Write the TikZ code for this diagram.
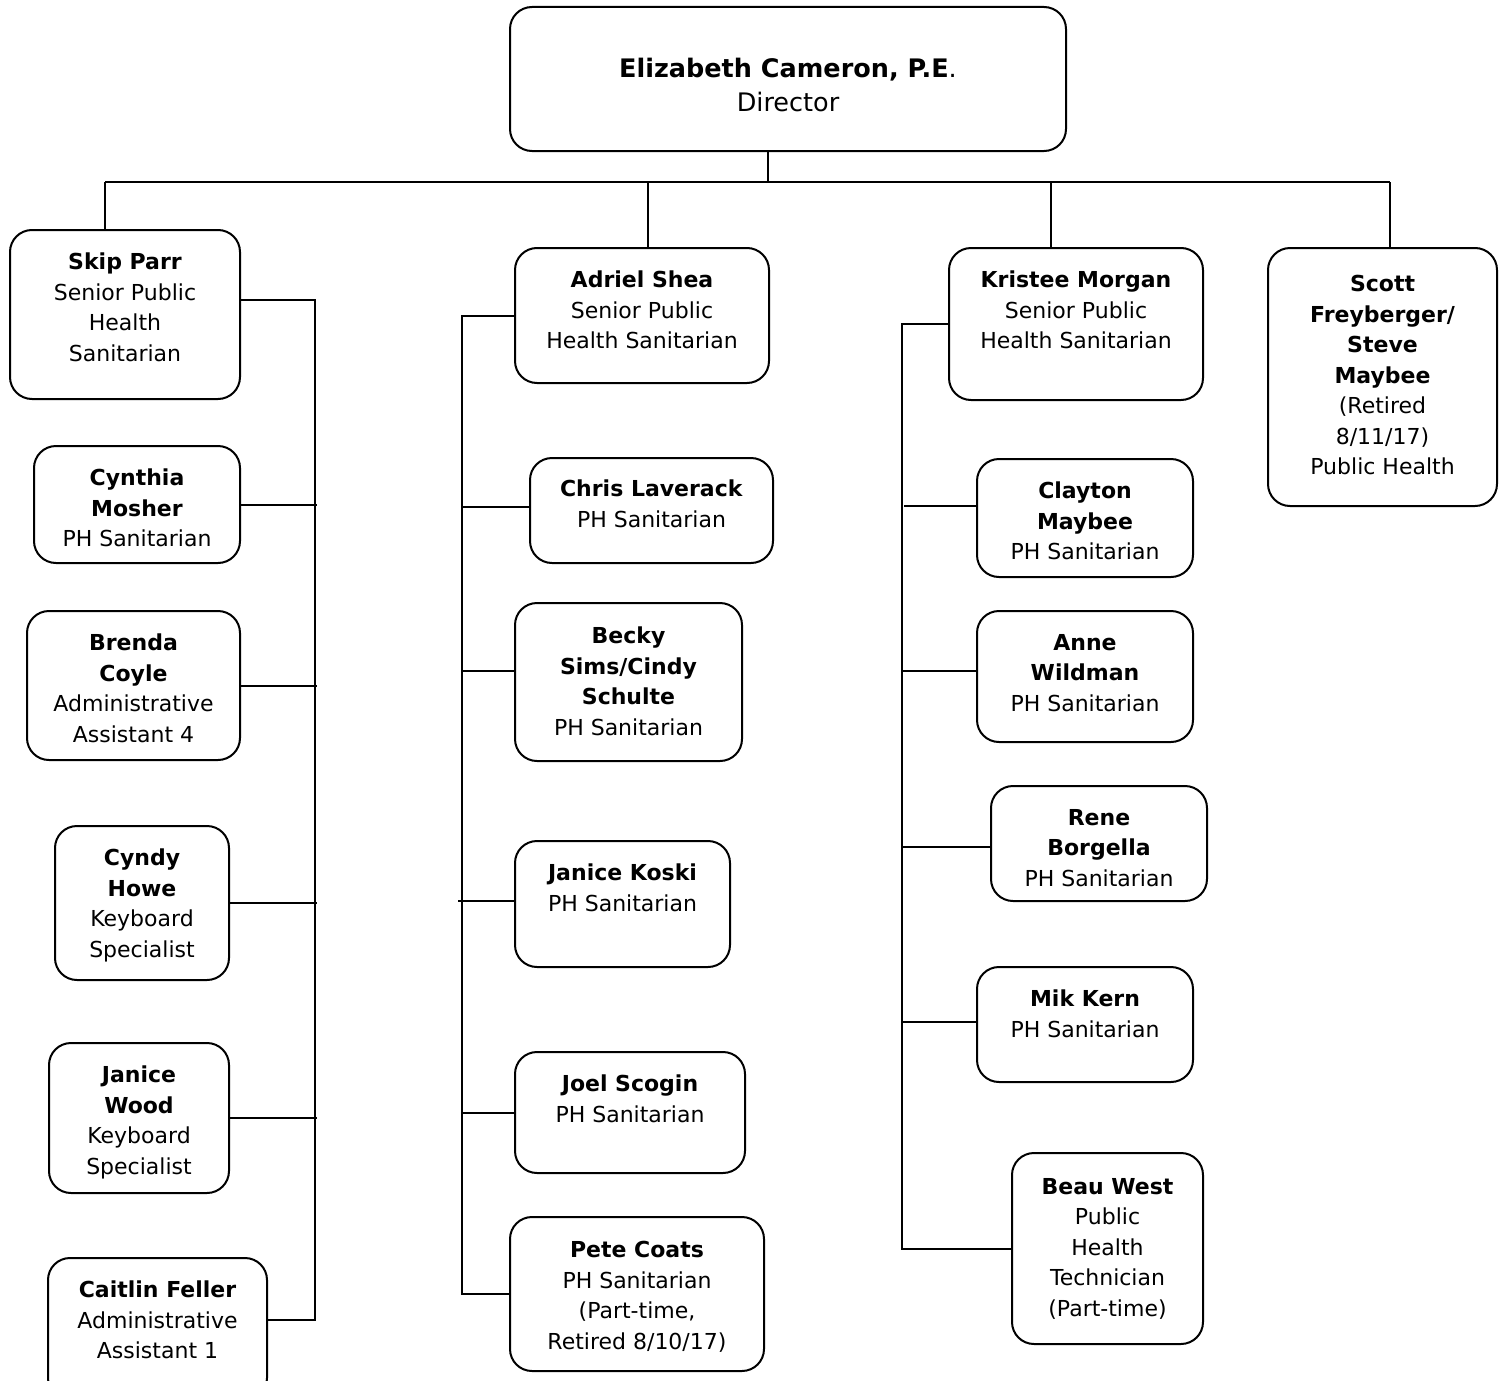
\documentclass[tikz,border=0pt]{standalone}
\usepackage{fontspec}
\setmainfont{DejaVu Sans}
\usepackage{tikz}
\usetikzlibrary{positioning}
\tikzstyle{staff} = [draw, rectangle, rounded corners=22pt, line width=2pt, inner sep=0pt]
\tikzstyle{nametext} = [align=center, inner sep=0pt, font=\fontsize{22}{30.5}\selectfont]
\tikzstyle{headtext} = [align=center, inner sep=0pt, font=\fontsize{25.5}{34}\selectfont]
\tikzstyle{link} = [line width=2pt]
\tikzstyle{bus} = [line width=2.4pt]
\tikzstyle{drop} = [line width=1.3pt]

\begin{document}
\begin{tikzpicture}[x=1pt, y=-1pt]
    \useasboundingbox (0,0) rectangle (1507,1381);
    % Director on top
    \node [staff, minimum width=556pt, minimum height=144pt] (dir) at (788,79) {};
    \node [headtext, below=52pt of dir.north] (dir-t) {\textbf{Elizabeth Cameron, P.E}.\\Director};

    % first column
    \node [staff, minimum width=230pt, minimum height=169pt] (skip) at (125,314.5) {};
    \node [nametext, below=24pt of skip.north] (skip-t) {\textbf{Skip Parr}\\Senior Public\\Health\\Sanitarian};
    \node [staff, minimum width=206pt, minimum height=117pt] (cyn) at (137,504.5) {};
    \node [nametext, below=24pt of cyn.north] (cyn-t) {\textbf{Cynthia}\\\textbf{Mosher}\\PH Sanitarian};
    \node [staff, minimum width=213pt, minimum height=149pt] (bren) at (133.5,685.5) {};
    \node [nametext, below=24pt of bren.north] (bren-t) {\textbf{Brenda}\\\textbf{Coyle}\\Administrative\\Assistant 4};
    \node [staff, minimum width=174pt, minimum height=154pt] (cyndy) at (142,903) {};
    \node [nametext, below=24pt of cyndy.north] (cyndy-t) {\textbf{Cyndy}\\\textbf{Howe}\\Keyboard\\Specialist};
    \node [staff, minimum width=180pt, minimum height=150pt] (jwood) at (139,1118) {};
    \node [nametext, below=24pt of jwood.north] (jwood-t) {\textbf{Janice}\\\textbf{Wood}\\Keyboard\\Specialist};
    \node [staff, minimum width=219pt, minimum height=142pt] (cait) at (157.5,1329) {};
    \node [nametext, below=24pt of cait.north] (cait-t) {\textbf{Caitlin Feller}\\Administrative\\Assistant 1};

    % second column
    \node [staff, minimum width=254pt, minimum height=135pt] (adriel) at (642,315.5) {};
    \node [nametext, below=24pt of adriel.north] (adriel-t) {\textbf{Adriel Shea}\\Senior Public\\Health Sanitarian};
    \node [staff, minimum width=243pt, minimum height=105pt] (chris) at (651.5,510.5) {};
    \node [nametext, below=23pt of chris.north] (chris-t) {\textbf{Chris Laverack}\\PH Sanitarian};
    \node [staff, minimum width=227pt, minimum height=158pt] (becky) at (628.5,682) {};
    \node [nametext, below=25pt of becky.north] (becky-t) {\textbf{Becky}\\\textbf{Sims/Cindy}\\\textbf{Schulte}\\PH Sanitarian};
    \node [staff, minimum width=215pt, minimum height=126pt] (koski) at (622.5,904) {};
    \node [nametext, below=24pt of koski.north] (koski-t) {\textbf{Janice Koski}\\PH Sanitarian};
    \node [staff, minimum width=230pt, minimum height=121pt] (joel) at (630,1112.5) {};
    \node [nametext, below=24pt of joel.north] (joel-t) {\textbf{Joel Scogin}\\PH Sanitarian};
    \node [staff, minimum width=254pt, minimum height=154pt] (pete) at (637,1294) {};
    \node [nametext, below=25pt of pete.north] (pete-t) {\textbf{Pete Coats}\\PH Sanitarian\\(Part-time,\\Retired 8/10/17)};

    % third column
    \node [staff, minimum width=254pt, minimum height=152pt] (kristee) at (1076,324) {};
    \node [nametext, below=24pt of kristee.north] (kristee-t) {\textbf{Kristee Morgan}\\Senior Public\\Health Sanitarian};
    \node [staff, minimum width=216pt, minimum height=118pt] (clay) at (1085,518) {};
    \node [nametext, below=24pt of clay.north] (clay-t) {\textbf{Clayton}\\\textbf{Maybee}\\PH Sanitarian};
    \node [staff, minimum width=216pt, minimum height=131pt] (anne) at (1085,676.5) {};
    \node [nametext, below=24pt of anne.north] (anne-t) {\textbf{Anne}\\\textbf{Wildman}\\PH Sanitarian};
    \node [staff, minimum width=216pt, minimum height=115pt] (rene) at (1099,843.5) {};
    \node [nametext, below=24pt of rene.north] (rene-t) {\textbf{Rene}\\\textbf{Borgella}\\PH Sanitarian};
    \node [staff, minimum width=216pt, minimum height=115pt] (mik) at (1085,1024.5) {};
    \node [nametext, below=24pt of mik.north] (mik-t) {\textbf{Mik Kern}\\PH Sanitarian};
    \node [staff, minimum width=191pt, minimum height=191pt] (beau) at (1107.5,1248.5) {};
    \node [nametext, below=26pt of beau.north] (beau-t) {\textbf{Beau West}\\Public\\Health\\Technician\\(Part-time)};

    % fourth column
    \node [staff, minimum width=229pt, minimum height=258pt] (scott) at (1382.5,377) {};
    \node [nametext, below=28pt of scott.north] (scott-t) {\textbf{Scott}\\\textbf{Freyberger/}\\\textbf{Steve}\\\textbf{Maybee}\\(Retired\\8/11/17)\\Public Health};

    % the bus under the director and the drops to each column head
    \coordinate (hub) at (768,182);
    \coordinate (d1) at (105,182);
    \coordinate (d2) at (648,182);
    \coordinate (d3) at (1051,182);
    \coordinate (d4) at (1390,182);
    \draw [drop] (dir.south -| hub) -- (hub);
    \draw [bus] (d1) -- (d4);
    \draw [drop] (d1) -- (d1 |- skip.north);
    \draw [drop] (d2) -- (d2 |- adriel.north);
    \draw [drop] (d3) -- (d3 |- kristee.north);
    \draw [drop] (d4) -- (d4 |- scott.north);

    % trunks down each column
    \coordinate (trunkA) at (315,0);
    \coordinate (trunkB) at (462,0);
    \coordinate (trunkC) at (902,0);
    \draw [link] ([yshift=14.5pt]skip.east) -| ([yshift=9pt]trunkA |- cait.east) -- ([yshift=9pt]cait.east);
    \foreach \n in {cyn,bren,cyndy,jwood}
        \draw [link] (\n.east) -- ([xshift=2pt]trunkA |- \n.east);
    \draw [link] (adriel.west) -| (trunkB |- pete.west) -- (pete.west);
    \draw [link] ([yshift=3.5pt]chris.west) -- ([yshift=3.5pt]trunkB |- chris.west);
    \draw [link] ([yshift=11pt]becky.west) -- ([yshift=11pt]trunkB |- becky.west);
    \draw [link] ([yshift=3pt]koski.west) -- ([xshift=-4pt,yshift=3pt]trunkB |- koski.west);
    \draw [link] (joel.west) -- (trunkB |- joel.west);
    \draw [link] (kristee.west) -| (trunkC |- beau.west) -- (beau.west);
    \draw [link] ([yshift=12pt]clay.west) -- ([yshift=12pt,xshift=2pt]trunkC |- clay.west);
    \draw [link] ([yshift=5.5pt]anne.west) -- ([yshift=5.5pt]trunkC |- anne.west);
    \draw [link] ([yshift=-3.5pt]rene.west) -- ([yshift=-3.5pt]trunkC |- rene.west);
    \draw [link] ([yshift=2.5pt]mik.west) -- ([yshift=2.5pt]trunkC |- mik.west);
\end{tikzpicture}
\end{document}
